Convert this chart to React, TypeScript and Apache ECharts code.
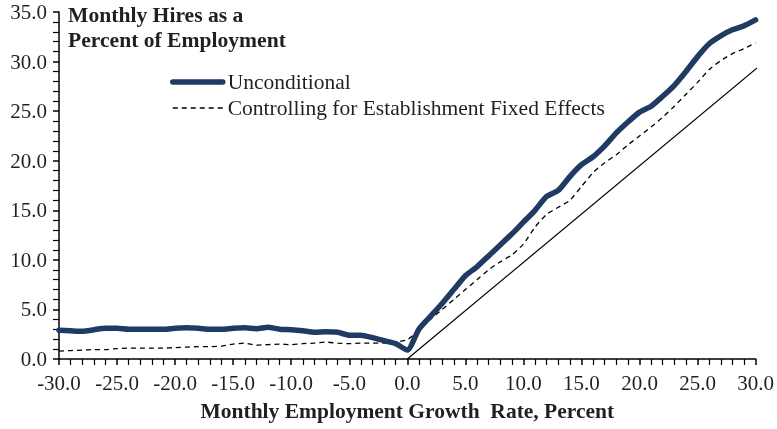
import React, { useEffect, useRef } from "react";
import * as echarts from "echarts";

const growthRates = [
  -30, -29, -28, -27, -26, -25, -24, -23, -22, -21, -20, -19, -18, -17, -16, -15,
  -14, -13, -12, -11, -10, -9, -8, -7, -6, -5, -4, -3, -2, -1, 0,
  1, 2, 3, 4, 5, 6, 7, 8, 9, 10, 11, 12, 13, 14, 15,
  16, 17, 18, 19, 20, 21, 22, 23, 24, 25, 26, 27, 28, 29, 30,
];

const unconditional = [
  2.9, 2.85, 2.8, 2.95, 3.1, 3.1, 3.0, 3.0, 3.0, 3.0, 3.1, 3.15, 3.1, 3.0, 3.0, 3.1,
  3.15, 3.05, 3.2, 3.0, 2.95, 2.85, 2.7, 2.75, 2.7, 2.4, 2.4, 2.15, 1.85, 1.55, 0.9,
  3.0, 4.3, 5.6, 7.0, 8.4, 9.3, 10.4, 11.5, 12.6, 13.8, 15.0, 16.4, 17.0, 18.4, 19.6,
  20.4, 21.5, 22.8, 23.9, 24.9, 25.5, 26.5, 27.6, 29.0, 30.5, 31.8, 32.6, 33.2, 33.6, 34.2,
];

const fixedEffects = [
  0.8, 0.85, 0.9, 0.95, 0.95, 1.05, 1.1, 1.1, 1.1, 1.1, 1.15, 1.2, 1.25, 1.25, 1.3, 1.5,
  1.6, 1.4, 1.45, 1.5, 1.45, 1.55, 1.6, 1.7, 1.6, 1.55, 1.6, 1.6, 1.6, 1.7, 1.95,
  2.9, 4.0, 5.0, 6.0, 7.0, 8.0, 9.0, 9.8, 10.5, 11.6, 13.3, 14.6, 15.3, 16.0, 17.4,
  18.8, 19.8, 20.6, 21.6, 22.5, 23.4, 24.4, 25.5, 26.7, 27.9, 29.2, 30.1, 30.8, 31.3, 31.9,
];

const referenceLineX = [0, 31.2];
const referenceLineY = [0, 30.4];

const seriesNames = ["Unconditional", "Controlling for Establishment Fixed Effects"];
const titleLines = ["Monthly Hires as a", "Percent of Employment"];
const xAxisTitle = "Monthly Employment Growth  Rate, Percent";

const FONT = "Liberation Serif";
const TEXT = "#231f20";
const NAVY = "#1f3a63";

export default function App() {
  const ref = useRef<HTMLDivElement>(null);

  useEffect(() => {
    if (!ref.current) return;
    const chart = echarts.init(ref.current, null, { renderer: "svg" });
    const pairs = (ys: number[]) => growthRates.map((x, i) => [x, ys[i]]);

    const axisCommon = {
      type: "value",
      splitLine: { show: false },
      axisLine: { show: true, onZero: false, lineStyle: { color: "#000", width: 1.5 } },
      axisTick: { show: true, inside: false, length: 6, lineStyle: { color: "#000", width: 1.5 } },
      minorTick: { show: true, splitNumber: 5, length: 6, lineStyle: { color: "#000", width: 1.2 } },
    };

    chart.setOption({
      animation: false,
      textStyle: { fontFamily: FONT },
      grid: { left: 59, right: 20, top: 12, bottom: 70 },
      legend: {
        left: 170,
        top: 71,
        padding: 0,
        orient: "vertical",
        itemWidth: 50,
        itemHeight: 14,
        itemGap: 4,
        data: [
          { name: seriesNames[0], lineStyle: { width: 5.5, color: NAVY }, itemStyle: { opacity: 0 } },
          { name: seriesNames[1], lineStyle: { width: 1.3, color: "#000", type: [5, 4] }, itemStyle: { opacity: 0 } },
        ],
        textStyle: { fontFamily: FONT, fontSize: 21.5, lineHeight: 22, color: TEXT },
      },
      graphic: [
        {
          type: "text",
          left: 68,
          top: 2,
          style: {
            text: titleLines.join("\n"),
            fontFamily: FONT,
            fontWeight: "bold",
            fontSize: 21.6,
            lineHeight: 25,
            fill: TEXT,
          },
        },
      ],
      xAxis: {
        ...axisCommon,
        min: -30,
        max: 30,
        interval: 5,
        name: xAxisTitle,
        nameLocation: "middle",
        nameGap: 41,
        nameTextStyle: { fontFamily: FONT, fontWeight: "bold", fontSize: 21.5, color: TEXT },
        axisLabel: {
          margin: 13,
          fontSize: 21,
          fontFamily: FONT,
          color: TEXT,
          formatter: (v: number) => v.toFixed(1),
        },
      },
      yAxis: {
        ...axisCommon,
        min: 0,
        max: 35,
        interval: 5,
        axisLabel: {
          margin: 12,
          fontSize: 21,
          fontFamily: FONT,
          color: TEXT,
          formatter: (v: number) => v.toFixed(1),
        },
      },
      series: [
        {
          name: seriesNames[0],
          type: "line",
          data: pairs(unconditional),
          showSymbol: false,
          symbol: "none",
          smooth: 0.2,
          color: NAVY,
          lineStyle: { color: NAVY, width: 5.5, cap: "round", join: "round" },
          z: 3,
        },
        {
          name: seriesNames[1],
          type: "line",
          data: pairs(fixedEffects),
          showSymbol: false,
          symbol: "none",
          smooth: 0.2,
          color: "#000",
          lineStyle: { color: "#000", width: 1.3, type: [5, 4] },
          z: 2,
        },
        {
          name: "45-degree line",
          type: "line",
          data: referenceLineX.map((x, i) => [x, referenceLineY[i]]),
          showSymbol: false,
          symbol: "none",
          clip: false,
          color: "#000",
          lineStyle: { color: "#000", width: 1.2 },
          z: 1,
        },
      ],
    });

    return () => chart.dispose();
  }, []);

  return (
    <div style={{ position: "fixed", left: 0, top: 0, width: 777, height: 429, lineHeight: 0 }}>
      <div ref={ref} style={{ width: 777, height: 429, display: "inline-block" }} />
    </div>
  );
}
